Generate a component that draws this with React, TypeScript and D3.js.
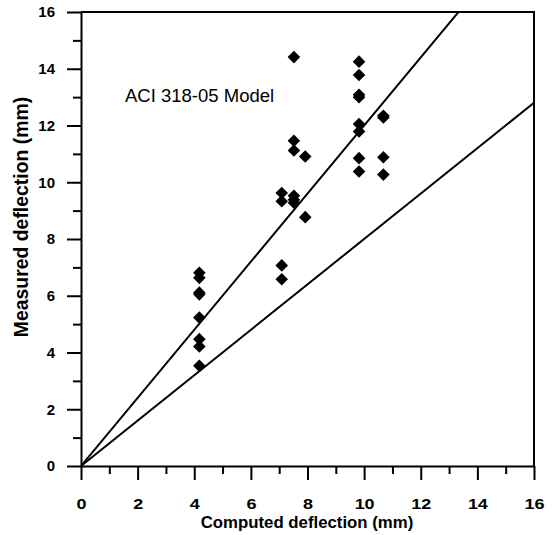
import React, { useEffect, useRef } from "react";
import * as d3 from "d3";

const xTicksMajor = [0, 2, 4, 6, 8, 10, 12, 14, 16];
const xTicksMinor = [1, 3, 5, 7, 9, 11, 13, 15];
const yTicksMajor = [0, 2, 4, 6, 8, 10, 12, 14, 16];
const yTicksMinor = [1, 3, 5, 7, 9, 11, 13, 15];

const computed = [
  4.18, 4.18, 4.18, 4.18, 4.18, 4.18, 4.18, 4.18,
  7.09, 7.09, 7.09, 7.09,
  7.52, 7.52, 7.52, 7.52, 7.52, 7.52,
  7.92, 7.92,
  9.82, 9.82, 9.82, 9.82, 9.82, 9.82, 9.82, 9.82,
  10.68, 10.68, 10.68, 10.68,
];
const measured = [
  6.81, 6.63, 6.11, 6.05, 5.23, 4.47, 4.21, 3.53,
  9.62, 9.33, 7.07, 6.58,
  14.41, 11.46, 11.12, 9.52, 9.38, 9.28,
  10.91, 8.77,
  14.25, 13.78, 13.08, 13.0, 12.05, 11.79, 10.85, 10.38,
  12.34, 12.28, 10.88, 10.27,
];
const lineSlopes = [1.2, 0.8];
const modelLabel = "ACI 318-05 Model";
const xTitle = "Computed deflection (mm)";
const yTitle = "Measured deflection (mm)";

export default function App() {
  const ref = useRef<SVGSVGElement>(null);
  useEffect(() => {
    const svg = d3.select(ref.current);
    svg.selectAll("*").remove();
    const x = d3.scaleLinear().domain([0, 16]).range([81, 534]);
    const y = d3.scaleLinear().domain([0, 16]).range([466, 12]);
    const font = "Arial, 'Liberation Sans', sans-serif";

    const g = svg.append("g");
    svg.append("defs").append("clipPath").attr("id", "plotclip")
      .append("rect").attr("x", x(0)).attr("y", y(16)).attr("width", x(16) - x(0)).attr("height", y(0) - y(16));

    lineSlopes.forEach((s) => {
      g.append("line")
        .attr("clip-path", "url(#plotclip)")
        .attr("x1", x(0)).attr("y1", y(0))
        .attr("x2", x(16)).attr("y2", y(16 * s))
        .attr("stroke", "#000").attr("stroke-width", 2);
    });

    const diamond = "M0,-6.3L6.3,0L0,6.3L-6.3,0Z";
    g.selectAll("path.pt").data(computed.map((c, i) => [c, measured[i]]))
      .enter().append("path").attr("class", "pt")
      .attr("d", diamond)
      .attr("transform", (d) => `translate(${x(d[0])},${y(d[1])})`)
      .attr("fill", "#000");

    g.append("path")
      .attr("d", `M${x(0)},${y(16)}H${x(16)}V${y(0)}`)
      .attr("fill", "none").attr("stroke", "#000").attr("stroke-width", 2);

    const xa = g.append("g").attr("transform", `translate(0,${y(0)})`);
    xa.call(d3.axisBottom(x).tickValues(xTicksMajor).tickSize(14).tickSizeOuter(0).tickPadding(18).tickFormat(d3.format("d")));
    const xm = g.append("g").attr("transform", `translate(0,${y(0)})`);
    xm.call(d3.axisBottom(x).tickValues(xTicksMinor).tickSize(8).tickSizeOuter(0).tickFormat(() => ""));
    xm.select(".domain").remove();

    const ya = g.append("g").attr("transform", `translate(${x(0)},0)`);
    ya.call(d3.axisLeft(y).tickValues(yTicksMajor).tickSize(14).tickSizeOuter(0).tickPadding(12).tickFormat(d3.format("d")));
    const ym = g.append("g").attr("transform", `translate(${x(0)},0)`);
    ym.call(d3.axisLeft(y).tickValues(yTicksMinor).tickSize(8).tickSizeOuter(0).tickFormat(() => ""));
    ym.select(".domain").remove();

    svg.selectAll(".domain").attr("stroke-width", 2).attr("stroke", "#000");
    svg.selectAll(".tick line").attr("stroke-width", 2).attr("stroke", "#000");
    svg.selectAll(".tick text")
      .attr("font-family", font).attr("font-size", 15).attr("font-weight", "bold").attr("fill", "#000");
    xa.selectAll(".tick text").attr("transform", "scale(1.2,1)");

    g.append("text").attr("x", 125).attr("y", 101.5)
      .attr("font-family", font).attr("font-size", 18.5).attr("fill", "#000")
      .text(modelLabel);

    g.append("text").attr("x", 307).attr("y", 528)
      .attr("text-anchor", "middle")
      .attr("font-family", font).attr("font-size", 16.8).attr("font-weight", "bold")
      .text(xTitle);
    g.append("text")
      .attr("transform", `translate(28,217) rotate(-90)`)
      .attr("text-anchor", "middle")
      .attr("font-family", font).attr("font-size", 19.4).attr("font-weight", "bold")
      .text(yTitle);
  }, []);
  return (
    <svg ref={ref} width={553} height={535}
      style={{ position: "absolute", left: 0, top: 0, background: "#fff" }} />
  );
}
